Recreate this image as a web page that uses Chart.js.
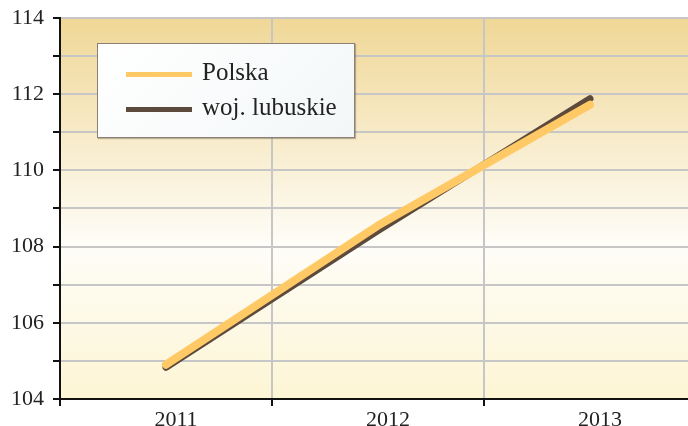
<!DOCTYPE html>
<html>
<head>
<meta charset="utf-8">
<script src="https://cdn.jsdelivr.net/npm/chart.js@4"></script>
<style>
  html, body { margin: 0; padding: 0; background: #fff; overflow: hidden; }
  #wrap { position: relative; width: 696px; height: 439px; }
  #legend {
    position: absolute; left: 97px; top: 43px; width: 256px; height: 93px;
    background: linear-gradient(135deg, #ffffff, #f3f7f8);
    border: 1px solid #8c8074; box-shadow: 1px 1px 1px rgba(0,0,0,0.25);
    font-family: "Liberation Serif", "Times New Roman", serif; font-size: 25px; color: #222;
  }
  .item { position: absolute; left: 28px; height: 28px; line-height: 28px; white-space: nowrap; }
  .item span.sw { display: inline-block; width: 66px; height: 5px; vertical-align: middle; margin-right: 10px; }
</style>
</head>
<body>
<div id="wrap">
  <canvas id="c" width="696" height="439"></canvas>
  <div id="legend">
    <div class="item" style="top:14px"><span class="sw" style="background:#ffc965"></span>Polska</div>
    <div class="item" style="top:49px"><span class="sw" style="background:#5c4a3c"></span>woj. lubuskie</div>
  </div>
</div>
<script>
const years = ['2011', '2012', '2013'];
const polska = [104.9, 108.55, 111.72];
const lubuskie = [104.83, 108.42, 111.88];
const yMin = 104, yMax = 114;

const bgPlugin = {
  id: 'bg',
  beforeDraw(chart) {
    const { ctx, chartArea: a } = chart;
    const g = ctx.createLinearGradient(0, a.top, 0, a.bottom);
    g.addColorStop(0, '#f0d796');
    g.addColorStop(0.6, '#fefdf8');
    g.addColorStop(1, '#fdf5d4');
    ctx.save();
    ctx.fillStyle = g;
    ctx.fillRect(a.left, a.top, a.right - a.left, a.bottom - a.top);
    ctx.restore();
  }
};

new Chart('c', {
  type: 'line',
  data: {
    labels: years,
    datasets: [
      { label: 'Polska', data: polska, borderColor: '#ffc965', borderWidth: 8 },
      { label: 'woj. lubuskie', data: lubuskie, borderColor: '#5c4a3c', borderWidth: 7 }
    ]
  },
  options: {
    responsive: false,
    animation: false,
    layout: { padding: { top: 10, right: 0, left: 0, bottom: 0 } },
    elements: {
      point: { radius: 0 },
      line: { tension: 0, borderCapStyle: 'round', borderJoinStyle: 'round' }
    },
    plugins: { legend: { display: false }, tooltip: { enabled: false } },
    scales: {
      x: {
        offset: true,
        grid: { offset: true, color: '#c6c6c6', lineWidth: 2, tickLength: 7, tickColor: '#111', tickWidth: 2 },
        border: { color: '#111', width: 2 },
        ticks: { color: '#222', padding: 1, labelOffset: 10, font: { family: 'Liberation Serif', size: 22 } },
        afterFit(s) { s.height = 40; }
      },
      y: {
        min: yMin, max: yMax,
        grid: { color: '#c6c6c6', lineWidth: 2, tickLength: 7, tickColor: '#111', tickWidth: 2 },
        border: { color: '#111', width: 2 },
        ticks: {
          stepSize: 1, color: '#222', padding: 9,
          font: { family: 'Liberation Serif', size: 22, lineHeight: 0.8 },
          callback: v => (v % 2 === 0 ? String(v) : '')
        },
        afterFit(s) { s.width = 60; }
      }
    }
  },
  plugins: [bgPlugin]
});
</script>
</body>
</html>
